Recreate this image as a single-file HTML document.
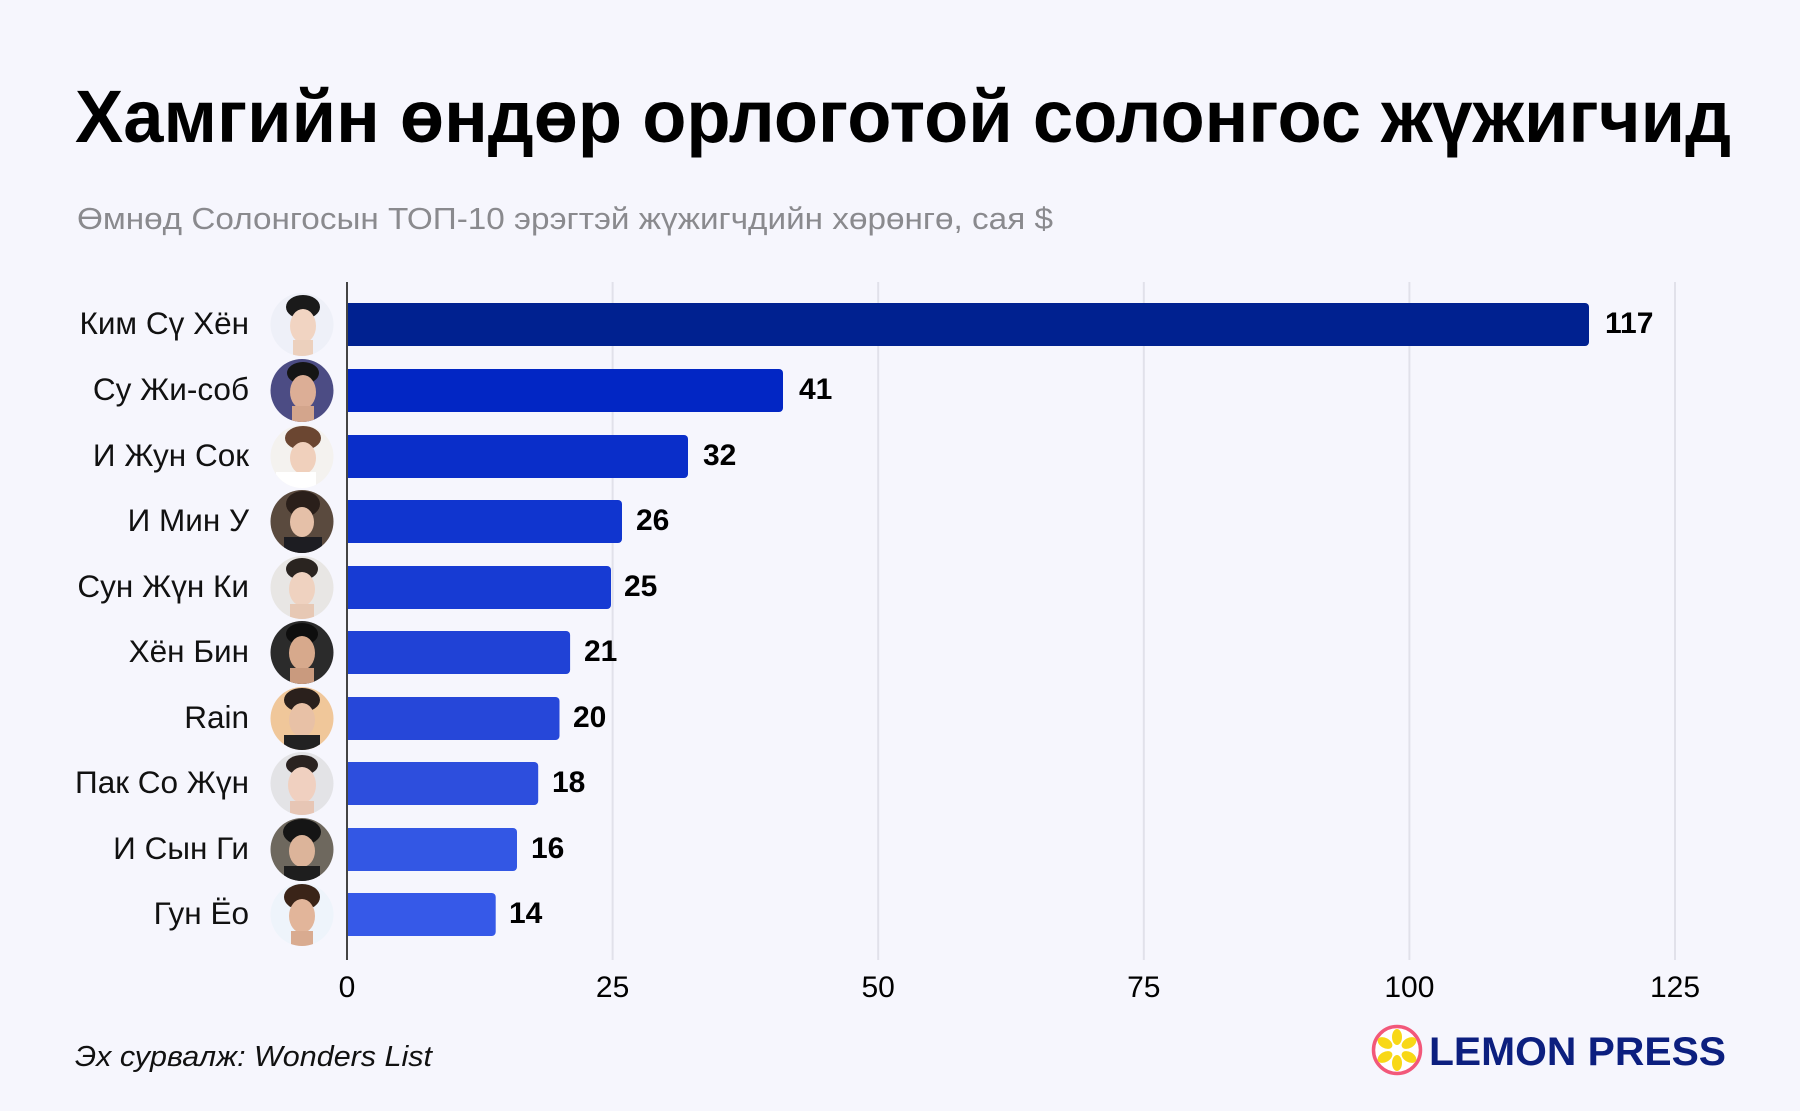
<!DOCTYPE html>
<html><head><meta charset="utf-8"><style>
html,body{margin:0;padding:0;background:#f6f6fd;}
svg{display:block;}
text{font-family:"Liberation Sans","DejaVu Sans",sans-serif;}
</style></head><body>
<svg width="1800" height="1111" viewBox="0 0 1800 1111" xmlns="http://www.w3.org/2000/svg">
<rect width="1800" height="1111" fill="#f6f6fd"/>
<text x="75" y="142" font-size="74" font-weight="bold" fill="#000" textLength="1656" lengthAdjust="spacingAndGlyphs">Хамгийн өндөр орлоготой солонгос жүжигчид</text>
<text x="77" y="229" font-size="31" fill="#8a8a8e" textLength="976" lengthAdjust="spacingAndGlyphs">Өмнөд Солонгосын ТОП-10 эрэгтэй жүжигчдийн хөрөнгө, сая $</text>

<g stroke="#e1e1ea" stroke-width="2">
<line x1="612.6" y1="282" x2="612.6" y2="960"/>
<line x1="878.2" y1="282" x2="878.2" y2="960"/>
<line x1="1143.8" y1="282" x2="1143.8" y2="960"/>
<line x1="1409.4" y1="282" x2="1409.4" y2="960"/>
<line x1="1675" y1="282" x2="1675" y2="960"/>
</g>

<g font-size="30" fill="#000" text-anchor="middle">
<text x="347" y="997">0</text>
<text x="612.6" y="997">25</text>
<text x="878.2" y="997">50</text>
<text x="1143.8" y="997">75</text>
<text x="1409.4" y="997">100</text>
<text x="1675" y="997">125</text>
</g>

<defs>
<clipPath id="c0"><circle cx="302" cy="324.5" r="31.5"/></clipPath>
<clipPath id="c1"><circle cx="302" cy="390.5" r="31.5"/></clipPath>
<clipPath id="c2"><circle cx="302" cy="456.5" r="31.5"/></clipPath>
<clipPath id="c3"><circle cx="302" cy="521.5" r="31.5"/></clipPath>
<clipPath id="c4"><circle cx="302" cy="587.5" r="31.5"/></clipPath>
<clipPath id="c5"><circle cx="302" cy="652.5" r="31.5"/></clipPath>
<clipPath id="c6"><circle cx="302" cy="718.5" r="31.5"/></clipPath>
<clipPath id="c7"><circle cx="302" cy="783.5" r="31.5"/></clipPath>
<clipPath id="c8"><circle cx="302" cy="849.5" r="31.5"/></clipPath>
<clipPath id="c9"><circle cx="302" cy="914.5" r="31.5"/></clipPath>
</defs>

<!-- bars -->
<path d="M347 303 H1585 a4 4 0 0 1 4 4 V342 a4 4 0 0 1 -4 4 H347Z" fill="#002190"/>
<path d="M347 369 H779 a4 4 0 0 1 4 4 V408 a4 4 0 0 1 -4 4 H347Z" fill="#0226c4"/>
<path d="M347 435 H684 a4 4 0 0 1 4 4 V474 a4 4 0 0 1 -4 4 H347Z" fill="#0a2ec9"/>
<path d="M347 500 H618 a4 4 0 0 1 4 4 V539 a4 4 0 0 1 -4 4 H347Z" fill="#1035cf"/>
<path d="M347 566 H607 a4 4 0 0 1 4 4 V605 a4 4 0 0 1 -4 4 H347Z" fill="#173bd3"/>
<path d="M347 631 H566.1 a4 4 0 0 1 4 4 V670 a4 4 0 0 1 -4 4 H347Z" fill="#2042d6"/>
<path d="M347 697 H555.5 a4 4 0 0 1 4 4 V736 a4 4 0 0 1 -4 4 H347Z" fill="#2647d9"/>
<path d="M347 762 H534.2 a4 4 0 0 1 4 4 V801 a4 4 0 0 1 -4 4 H347Z" fill="#2d4edd"/>
<path d="M347 828 H513 a4 4 0 0 1 4 4 V867 a4 4 0 0 1 -4 4 H347Z" fill="#3357e4"/>
<path d="M347 893 H491.7 a4 4 0 0 1 4 4 V932 a4 4 0 0 1 -4 4 H347Z" fill="#3659e8"/>

<line x1="347" y1="282" x2="347" y2="960" stroke="#444" stroke-width="2"/>

<g font-size="30" font-weight="bold" fill="#000">
<text x="1605" y="333">117</text>
<text x="799" y="399">41</text>
<text x="703" y="465">32</text>
<text x="636" y="530">26</text>
<text x="624" y="596">25</text>
<text x="584" y="661">21</text>
<text x="573" y="727">20</text>
<text x="552" y="792">18</text>
<text x="531" y="858">16</text>
<text x="509" y="923">14</text>
</g>

<g font-size="31.5" fill="#111" text-anchor="end">
<text x="249" y="334">Ким Сү Хён</text>
<text x="249" y="400">Су Жи-соб</text>
<text x="249" y="466">И Жун Сок</text>
<text x="249" y="531">И Мин У</text>
<text x="249" y="597">Сун Жүн Ки</text>
<text x="249" y="662">Хён Бин</text>
<text x="249" y="728">Rain</text>
<text x="249" y="793">Пак Со Жүн</text>
<text x="249" y="859">И Сын Ги</text>
<text x="249" y="924">Гун Ёо</text>
</g>

<!-- avatars -->
<g clip-path="url(#c0)">
<rect x="270" y="292" width="64" height="64" fill="#eef0f8"/>
<ellipse cx="303" cy="307" rx="17" ry="12" fill="#1a1a1a"/>
<ellipse cx="303" cy="326" rx="13" ry="17" fill="#f1d4c2"/>
<rect x="293" y="340" width="20" height="20" fill="#ecd0bd"/>
</g>
<g clip-path="url(#c1)">
<rect x="270" y="358" width="64" height="64" fill="#4c4c84"/>
<ellipse cx="303" cy="373" rx="16" ry="11" fill="#151515"/>
<ellipse cx="303" cy="392" rx="13" ry="17" fill="#dcae96"/>
<rect x="292" y="406" width="22" height="20" fill="#d3a58c"/>
</g>
<g clip-path="url(#c2)">
<rect x="270" y="424" width="64" height="64" fill="#f4f2ef"/>
<ellipse cx="303" cy="438" rx="18" ry="12" fill="#6b4631"/>
<ellipse cx="303" cy="458" rx="13" ry="16" fill="#f0d0bc"/>
<rect x="276" y="472" width="40" height="18" fill="#ffffff"/>
</g>
<g clip-path="url(#c3)">
<rect x="270" y="489" width="64" height="64" fill="#5a4a3e"/>
<ellipse cx="303" cy="504" rx="17" ry="13" fill="#2a1f1a"/>
<ellipse cx="302" cy="522" rx="12" ry="15" fill="#e5c0a8"/>
<rect x="284" y="537" width="38" height="18" fill="#1d1d22"/>
</g>
<g clip-path="url(#c4)">
<rect x="270" y="555" width="64" height="64" fill="#e8e6e4"/>
<ellipse cx="302" cy="569" rx="16" ry="11" fill="#2a2420"/>
<ellipse cx="302" cy="589" rx="13" ry="17" fill="#efd2c0"/>
<rect x="290" y="604" width="24" height="16" fill="#e7c8b4"/>
</g>
<g clip-path="url(#c5)">
<rect x="270" y="620" width="64" height="64" fill="#2b2b2b"/>
<ellipse cx="302" cy="634" rx="16" ry="11" fill="#0e0e0e"/>
<ellipse cx="302" cy="653" rx="13" ry="17" fill="#d7a98c"/>
<rect x="290" y="668" width="24" height="16" fill="#c99a7e"/>
</g>
<g clip-path="url(#c6)">
<rect x="270" y="686" width="64" height="64" fill="#f0c79a"/>
<ellipse cx="302" cy="700" rx="18" ry="12" fill="#2a201c"/>
<ellipse cx="302" cy="720" rx="13" ry="17" fill="#e8c1a6"/>
<rect x="284" y="735" width="36" height="16" fill="#222"/>
</g>
<g clip-path="url(#c7)">
<rect x="270" y="751" width="64" height="64" fill="#e3e3e6"/>
<ellipse cx="302" cy="765" rx="16" ry="10" fill="#2a2220"/>
<ellipse cx="302" cy="785" rx="14" ry="18" fill="#f0d0c0"/>
<rect x="290" y="801" width="24" height="16" fill="#e7c6b5"/>
</g>
<g clip-path="url(#c8)">
<rect x="270" y="817" width="64" height="64" fill="#6e685e"/>
<ellipse cx="302" cy="832" rx="19" ry="13" fill="#151515"/>
<ellipse cx="302" cy="851" rx="13" ry="16" fill="#dcb49a"/>
<rect x="284" y="866" width="36" height="16" fill="#1e1e1e"/>
</g>
<g clip-path="url(#c9)">
<rect x="270" y="882" width="64" height="64" fill="#eef4fb"/>
<ellipse cx="302" cy="897" rx="18" ry="13" fill="#3a2418"/>
<ellipse cx="302" cy="916" rx="13" ry="17" fill="#e2b59a"/>
<rect x="291" y="931" width="22" height="16" fill="#d9ab90"/>
</g>

<text x="75" y="1066" font-size="29" font-style="italic" fill="#111" textLength="357" lengthAdjust="spacingAndGlyphs">Эх сурвалж: Wonders List</text>

<!-- logo -->
<circle cx="1397" cy="1050" r="23.5" fill="#fff" stroke="#f2587a" stroke-width="3.5"/>
<g fill="#f8d816">
<ellipse cx="1397" cy="1037" rx="5" ry="8"/>
<ellipse cx="1409" cy="1043" rx="5" ry="8" transform="rotate(60 1409 1043)"/>
<ellipse cx="1409" cy="1057" rx="5" ry="8" transform="rotate(120 1409 1057)"/>
<ellipse cx="1397" cy="1063" rx="5" ry="8"/>
<ellipse cx="1385" cy="1057" rx="5" ry="8" transform="rotate(60 1385 1057)"/>
<ellipse cx="1385" cy="1043" rx="5" ry="8" transform="rotate(120 1385 1043)"/>
</g>
<text x="1429" y="1065" font-size="40" font-weight="bold" fill="#0c1f7f" textLength="297" lengthAdjust="spacingAndGlyphs">LEMON PRESS</text>
</svg>
</body></html>
